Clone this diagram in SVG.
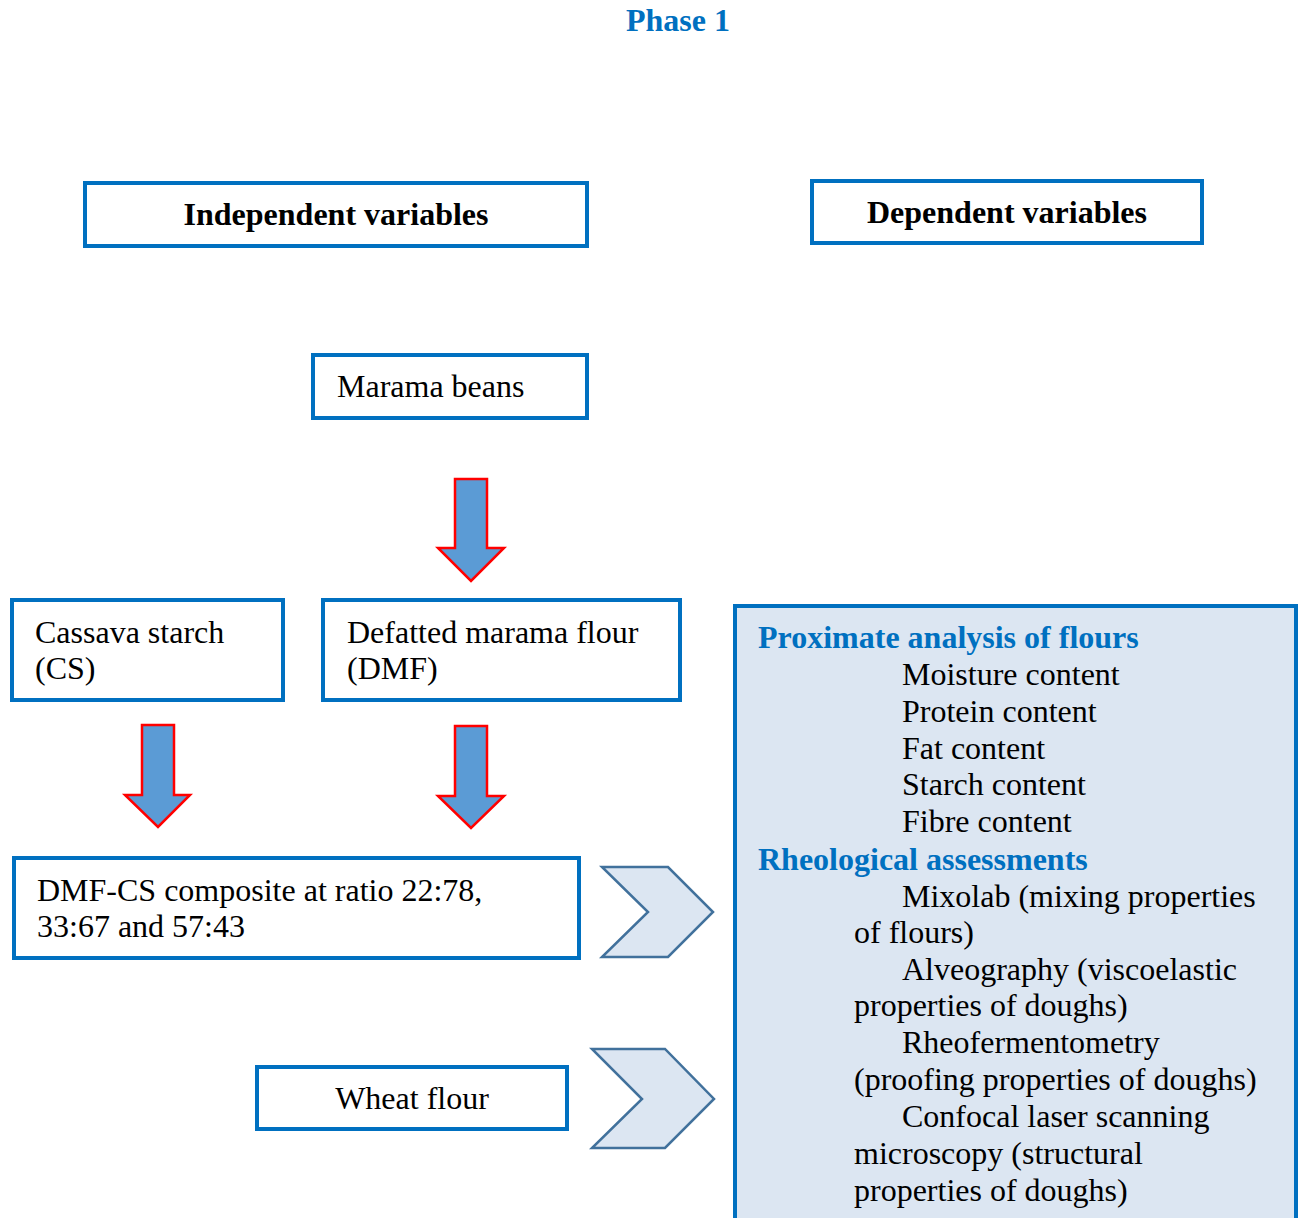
<svg xmlns="http://www.w3.org/2000/svg" width="1301" height="1218" viewBox="0 0 1301 1218">
  <style>
    text { font-family: "Liberation Serif", "Times New Roman", serif; font-size: 32px; fill: #000; }
    .b { font-weight: bold; }
    .blue { fill: #0070C0; }
    .mid { text-anchor: middle; }
    .box { fill: #fff; stroke: #0070C0; stroke-width: 4; }
    .panel { fill: #DCE6F2; stroke: #0070C0; stroke-width: 4; }
    .down { fill: #5B9BD5; stroke: #FF0000; stroke-width: 2.5; stroke-linejoin: miter; }
    .chev { fill: #DCE6F2; stroke: #41719C; stroke-width: 2.5; stroke-linejoin: miter; }
  </style>

  <text class="b blue mid" x="678" y="31">Phase 1</text>

  <g id="independent">
    <rect class="box" x="85" y="183" width="502" height="63"/>
    <text class="b mid" x="336" y="225">Independent variables</text>
  </g>

  <g id="dependent">
    <rect class="box" x="812" y="181" width="390" height="62"/>
    <text class="b mid" x="1007" y="223">Dependent variables</text>
  </g>

  <g id="marama-beans">
    <rect class="box" x="313" y="355" width="274" height="63"/>
    <text x="337" y="397">Marama beans</text>
  </g>

  <g id="cassava-starch">
    <rect class="box" x="12" y="600" width="271" height="100"/>
    <text x="35" y="643">Cassava starch</text>
    <text x="35" y="679">(CS)</text>
  </g>

  <g id="dmf">
    <rect class="box" x="323" y="600" width="357" height="100"/>
    <text x="347" y="643">Defatted marama flour</text>
    <text x="347" y="679">(DMF)</text>
  </g>

  <g id="composite">
    <rect class="box" x="14" y="858" width="565" height="100"/>
    <text x="37" y="901">DMF-CS composite at ratio 22:78,</text>
    <text x="37" y="937">33:67 and 57:43</text>
  </g>

  <g id="wheat-flour">
    <rect class="box" x="257" y="1067" width="310" height="62"/>
    <text class="mid" x="412" y="1109">Wheat flour</text>
  </g>

  <g id="analyses">
    <rect class="panel" x="735" y="606" width="561" height="640"/>
    <text class="b blue" x="758" y="648">Proximate analysis of flours</text>
    <text x="902" y="685">Moisture content</text>
    <text x="902" y="722">Protein content</text>
    <text x="902" y="759">Fat content</text>
    <text x="902" y="795">Starch content</text>
    <text x="902" y="832">Fibre content</text>
    <text class="b blue" x="758" y="870">Rheological assessments</text>
    <text x="902" y="907">Mixolab (mixing properties</text>
    <text x="854" y="943">of flours)</text>
    <text x="902" y="980">Alveography (viscoelastic</text>
    <text x="854" y="1016">properties of doughs)</text>
    <text x="902" y="1053">Rheofermentometry</text>
    <text x="854" y="1090">(proofing properties of doughs)</text>
    <text x="902" y="1127">Confocal laser scanning</text>
    <text x="854" y="1164">microscopy (structural</text>
    <text x="854" y="1201">properties of doughs)</text>
  </g>

  <g id="connectors">
    <!-- block arrows downwards -->
    <polygon class="down" points="455,479 487,479 487,548 504,548 471,581 438,548 455,548"/>
    <polygon class="down" points="142,725 174,725 174,795 190,795 158,827 125,795 142,795"/>
    <polygon class="down" points="455,726 487,726 487,796 504,796 471,828 438,796 455,796"/>
    <!-- chevrons pointing to the analyses panel -->
    <polygon class="chev" points="602,867 668,867 713,912 668,957 602,957 648,912"/>
    <polygon class="chev" points="592,1049 665,1049 714,1099 665,1148 592,1148 642,1099"/>
  </g>
</svg>
